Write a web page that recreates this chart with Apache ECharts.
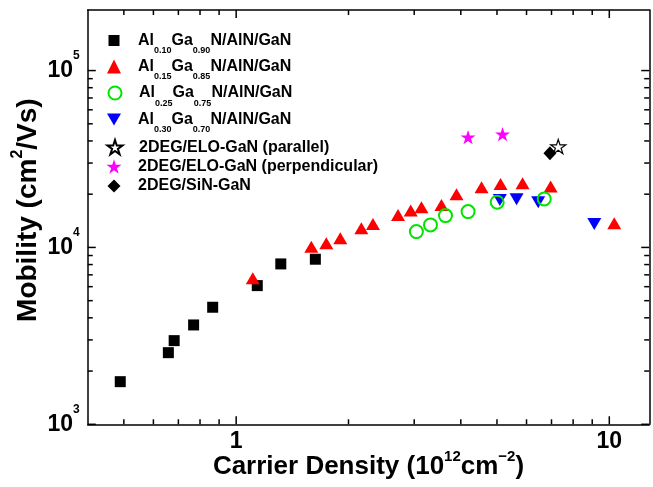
<!DOCTYPE html>
<html><head><meta charset="utf-8">
<script src="https://cdn.jsdelivr.net/npm/echarts@6/dist/echarts.min.js"></script>
<style>html,body{margin:0;padding:0;background:#fff}#c{width:653px;height:487px}</style>
</head><body><div id="c"></div>
<script>
// ---- data (carrier density in 1e12 cm^-2, mobility in cm^2/Vs) ----
const al10Density  = [0.489, 0.658, 0.682, 0.769, 0.865, 1.139, 1.317, 1.630];
const al10Mobility = [1742, 2541, 2972, 3645, 4590, 6083, 8068, 8577];

const al15Density  = [1.108, 1.590, 1.744, 1.901, 2.165, 2.326, 2.715, 2.936, 3.137, 3.549, 3.895, 4.546, 5.111, 5.855, 6.963, 10.31];
const al15Mobility = [6696, 10104, 10563, 11272, 12843, 13578, 15270, 16150, 16880, 17395, 19995, 21900, 22870, 23080, 22080, 13706];

const al25Density  = [3.041, 3.317, 3.639, 4.183, 5.006, 6.693];
const al25Mobility = [12290, 13410, 15130, 15940, 18020, 18810];

const al30Density  = [5.089, 5.643, 6.449, 9.115];
const al30Mobility = [18570, 18740, 18020, 13580];

const eloParDensity  = [7.297];
const eloParMobility = [37170];

const eloPerpDensity  = [4.183, 5.175];
const eloPerpMobility = [42010, 43690];

const sinDensity  = [6.933];
const sinMobility = [34110];

const xMajorTicks = [1, 10];
const xMinorTicks = [0.5, 0.6, 0.7, 0.8, 0.9, 2, 3, 4, 5, 6, 7, 8, 9];
const yMajorTicks = [1000, 10000, 100000];
const yMinorTicks = [2000, 3000, 4000, 5000, 6000, 7000, 8000, 9000, 20000, 30000, 40000, 50000, 60000, 70000, 80000, 90000];

const seriesNames = [
  'Al0.10Ga0.90N/AlN/GaN',
  'Al0.15Ga0.85N/AlN/GaN',
  'Al0.25Ga0.75N/AlN/GaN',
  'Al0.30Ga0.70N/AlN/GaN',
  '2DEG/ELO-GaN (parallel)',
  '2DEG/ELO-GaN (perpendicular)',
  '2DEG/SiN-GaN'
];
const legendRich = {
  'Al0.10Ga0.90N/AlN/GaN': '{g|}{m|Al}{s|0.10}{m|Ga}{s|0.90}{m|N/AlN/GaN}',
  'Al0.15Ga0.85N/AlN/GaN': '{g|}{m|Al}{s|0.15}{m|Ga}{s|0.85}{m|N/AlN/GaN}',
  'Al0.25Ga0.75N/AlN/GaN': '{g|}{m|Al}{s|0.25}{m|Ga}{s|0.75}{m|N/AlN/GaN}',
  'Al0.30Ga0.70N/AlN/GaN': '{g|}{m|Al}{s|0.30}{m|Ga}{s|0.70}{m|N/AlN/GaN}',
  '2DEG/ELO-GaN (parallel)': '{g|}{m|2DEG/ELO-GaN (parallel)}',
  '2DEG/ELO-GaN (perpendicular)': '{g|}{m|2DEG/ELO-GaN (perpendicular)}',
  '2DEG/SiN-GaN': '{g|}{m|2DEG/SiN-GaN}'
};
const legendCenters = [39.5, 65.5, 92, 118.5, 146, 165.5, 185];

function pairs(xs, ys) { return xs.map((x, i) => [x, ys[i]]); }

const FONT = "'Liberation Sans', Arial, sans-serif";
const STAR = 'path://M50 0 L61.23 34.55 L97.55 34.55 L68.17 55.90 L79.39 90.45 L50 69.1 L20.61 90.45 L31.83 55.90 L2.45 34.55 L38.77 34.55 Z';
const DOWN_TRI = 'path://M0 0 L14 0 L7 12 Z';

const X_MIN = 0.4, X_MAX = 12.8, Y_MIN = 1000, Y_MAX = 220000;
const AXIS_W = 1.5;
const EDGE = 1.0005; // keep tick anchors a hair inside the axis extent

function xAx(pos, showLabel) {
  return {
    type: 'log', logBase: 10, min: X_MIN, max: X_MAX, position: pos,
    axisLine: { show: true, lineStyle: { color: '#000', width: AXIS_W } },
    axisTick: { show: false },
    axisLabel: showLabel ? {
      show: true, customValues: xMajorTicks, margin: 5,
      fontFamily: FONT, fontWeight: 'bold', fontSize: 23, color: '#000', lineHeight: 24,
      formatter: v => String(Math.round(v))
    } : { show: false },
    splitLine: { show: false }, minorTick: { show: false }
  };
}
function yAx(pos, showLabel) {
  return {
    type: 'log', logBase: 10, min: Y_MIN, max: Y_MAX, position: pos,
    axisLine: { show: true, lineStyle: { color: '#000', width: AXIS_W } },
    axisTick: { show: false },
    axisLabel: showLabel ? {
      show: true, customValues: yMajorTicks, margin: 8,
      formatter: v => '{b|10}{s|' + Math.round(Math.log10(v)) + '}',
      rich: {
        b: { fontFamily: FONT, fontWeight: 'bold', fontSize: 23, color: '#000', lineHeight: 41 },
        s: { fontFamily: FONT, fontWeight: 'bold', fontSize: 12, color: '#000', lineHeight: 14, verticalAlign: 'top' }
      }
    } : { show: false },
    splitLine: { show: false }, minorTick: { show: false }
  };
}

const xAxes = [xAx('bottom', true), xAx('top', false)];
Object.assign(xAxes[0], {
  name: '{m|Carrier Density (10}{s|12}{m|cm}{s|\u22122}{m|)}',
  nameLocation: 'middle', nameGap: 25, nameMoveOverlap: false,
  nameTextStyle: { rich: {
    m: { fontFamily: FONT, fontWeight: 'bold', fontSize: 26, color: '#000', lineHeight: 36 },
    s: { fontFamily: FONT, fontWeight: 'bold', fontSize: 15, color: '#000', lineHeight: 15, verticalAlign: 'top' }
  } }
});
const yAxes = [yAx('left', true), yAx('right', false)];
Object.assign(yAxes[0], {
  name: '{m|Mobility (cm}{s|2}{m|/Vs)}',
  nameLocation: 'middle', nameGap: 40, nameMoveOverlap: false,
  nameTextStyle: { padding: [0, 0, 0, 14], rich: {
    m: { fontFamily: FONT, fontWeight: 'bold', fontSize: 28, color: '#000', lineHeight: 38 },
    s: { fontFamily: FONT, fontWeight: 'bold', fontSize: 16, color: '#000', lineHeight: 16, verticalAlign: 'top' }
  } }
});

// tick marks: thin rect symbols placed through the axes' own scales
const tickNames = [];
function tickSeries(values, side, len, tag) {
  const isX = side === 'bottom' || side === 'top';
  const data = values.map(v => {
    if (side === 'bottom') return [v, Y_MIN * EDGE];
    if (side === 'top') return [v, Y_MAX / EDGE];
    if (side === 'left') return [X_MIN * EDGE, v];
    return [X_MAX / EDGE, v];
  });
  const off = { bottom: [0, -len / 2], top: [0, len / 2], left: [len / 2, 0], right: [-len / 2, 0] }[side];
  const name = 'tick-' + side + '-' + tag;
  tickNames.push(name);
  return {
    name: name,
    type: 'scatter', xAxisIndex: 0, yAxisIndex: 0, animation: false,
    symbol: 'rect',
    symbolSize: isX ? [AXIS_W, len] : [len, AXIS_W], symbolOffset: off,
    itemStyle: { color: '#000', opacity: 1 },
    data: data
  };
}

const series = [
  { name: seriesNames[0], data: pairs(al10Density, al10Mobility), symbol: 'rect', symbolSize: 11, itemStyle: { color: '#000', opacity: 1 }, z: 2 },
  { name: seriesNames[1], data: pairs(al15Density, al15Mobility), symbol: 'triangle', symbolSize: [14, 12], itemStyle: { color: '#ff0000', opacity: 1 }, z: 3 },
  { name: seriesNames[2], data: pairs(al25Density, al25Mobility), symbol: 'circle', symbolSize: 13, itemStyle: { color: 'rgba(255,255,255,0)', borderColor: '#00e400', borderWidth: 2, opacity: 1 }, z: 5 },
  { name: seriesNames[3], data: pairs(al30Density, al30Mobility), symbol: DOWN_TRI, symbolSize: [14, 12], itemStyle: { color: '#0000ff', opacity: 1 }, z: 4 },
  { name: seriesNames[4], data: pairs(eloParDensity, eloParMobility), symbol: STAR, symbolKeepAspect: true, symbolSize: 15, itemStyle: { color: '#fff', borderColor: '#000', borderWidth: 1.2, opacity: 1 }, z: 7 },
  { name: seriesNames[5], data: pairs(eloPerpDensity, eloPerpMobility), symbol: STAR, symbolKeepAspect: true, symbolSize: 15, itemStyle: { color: '#ff00ff', opacity: 1 }, z: 6 },
  { name: seriesNames[6], data: pairs(sinDensity, sinMobility), symbol: 'diamond', symbolSize: [13, 14], itemStyle: { color: '#000', opacity: 1 }, z: 6 }
].map(s => Object.assign({ type: 'scatter', xAxisIndex: 0, yAxisIndex: 0, animation: false }, s));

series.push(
  tickSeries(xMajorTicks, 'bottom', 8, 'major'), tickSeries(xMinorTicks, 'bottom', 5, 'minor'),
  tickSeries(xMajorTicks, 'top', 8, 'major'), tickSeries(xMinorTicks, 'top', 5, 'minor'),
  tickSeries(yMajorTicks, 'left', 8, 'major'), tickSeries(yMinorTicks, 'left', 5, 'minor'),
  tickSeries(yMajorTicks, 'right', 8, 'major'), tickSeries(yMinorTicks, 'right', 5, 'minor')
);

const legendSizes = [11, 14, 13, 14, 15, 15, 13];
const legends = seriesNames.map((n, i) => ({
  data: [n], left: 114 - legendSizes[i] / 2, top: legendCenters[i] - 7, padding: 0,
  itemWidth: legendSizes[i], itemHeight: legendSizes[i], selectedMode: false,
  formatter: name => legendRich[name],
  textStyle: { rich: {
    g: { width: 19 - legendSizes[i] / 2, lineHeight: 30 },
    m: { fontFamily: FONT, fontWeight: 'bold', fontSize: 16, color: '#000', lineHeight: 30 },
    s: { fontFamily: FONT, fontWeight: 'bold', fontSize: 9, color: '#000', lineHeight: 10, verticalAlign: 'bottom' }
  } }
}));
// invisible legend that also lists the tick-mark series so they stay selected
legends.push({
  data: tickNames, left: 0, top: -400, padding: 0, selectedMode: false,
  itemWidth: 1, itemHeight: 1, itemStyle: { opacity: 0 },
  textStyle: { color: 'rgba(0,0,0,0)', fontSize: 1 }
});

const chart = echarts.init(document.getElementById('c'), null, { renderer: 'canvas' });
chart.setOption({
  animation: false,
  backgroundColor: '#fff',
  grid: { left: 87.7, right: 3.7, top: 10, bottom: 62.7, containLabel: false },
  xAxis: xAxes,
  yAxis: yAxes,
  legend: legends,
  series: series
});
</script></body></html>
